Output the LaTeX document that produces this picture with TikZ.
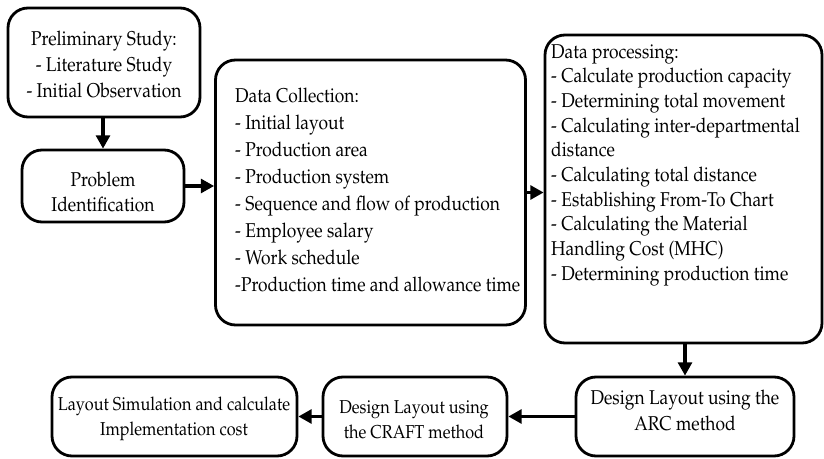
\documentclass[tikz,border=0pt]{standalone}
\usepackage[T1]{fontenc}
\usepackage{palatino}
\usetikzlibrary{arrows.meta}
\tikzset{
  box/.style={draw=black, line width=2.1pt, rounded corners=15pt, fill=white, inner sep=0pt},
  txt/.style={inner sep=0pt, xscale=0.87, font=\fontsize{15}{19.5}\selectfont},
  arr/.style={line width=2.3pt, -{Triangle[length=10pt,width=10.5pt]}},
}
\begin{document}
\begin{tikzpicture}[x=0.75pt,y=-0.75pt]
\useasboundingbox (0,0) rectangle (824,459);
% boxes
\node[box, minimum width=192*0.75pt, minimum height=109*0.75pt] (b1) at (104,62.5) {};
\node[txt, align=center] (t1) at (104,64) {Preliminary Study:\\- Literature Study\\- Initial Observation};
\node[box, minimum width=162*0.75pt, minimum height=72*0.75pt] (b2) at (103,186) {};
\node[txt, align=center, font=\fontsize{15}{19}\selectfont] (t2) at (103,192) {Problem\\Identification};
\node[box, minimum width=310*0.75pt, minimum height=265*0.75pt] (b3) at (370.5,192.5) {};
\node[txt, align=left, anchor=north west, font=\fontsize{15}{20.2}\selectfont] (t3) at (235,88) {Data Collection:\\- Initial layout\\- Production area\\- Production system\\- Sequence and flow of production\\- Employee salary\\- Work schedule\\-Production time and allowance time};
\node[box, minimum width=277*0.75pt, minimum height=308*0.75pt] (b4) at (683.5,189) {};
\node[txt, align=left, anchor=north west, font=\fontsize{15}{18.5}\selectfont] (t4) at (551,44) {Data processing:\\- Calculate production capacity\\- Determining total movement\\- Calculating inter-departmental\\distance\\- Calculating total distance\\- Establishing From-To Chart\\- Calculating the Material\\Handling Cost (MHC)\\- Determining production time};
\node[box, minimum width=218*0.75pt, minimum height=79*0.75pt] (b5) at (685,416.5) {};
\node[txt, align=center, font=\fontsize{15}{19.5}\selectfont] (t5) at (685,410.5) {Design Layout using the\\ARC method};
\node[box, minimum width=184*0.75pt, minimum height=79*0.75pt] (b6) at (415,416.5) {};
\node[txt, align=center, font=\fontsize{14}{18.5}\selectfont] (t6) at (414,420) {Design Layout using\\the CRAFT method};
\node[box, minimum width=245*0.75pt, minimum height=79*0.75pt] (b7) at (174.5,416.5) {};
\node[txt, align=center, font=\fontsize{14}{18.5}\selectfont] (t7) at (174,419) {Layout Simulation and calculate\\Implementation cost};
% arrows
\draw[arr] (b1.south -| b2.north) -- (b2.north);
\draw[arr] (b2.east) -- (b2.east -| b3.west);
\draw[arr] (b3.east) -- (b3.east -| b4.west);
\draw[arr] (b5.north |- b4.south) -- (b5.north);
\draw[arr] (b5.west) -- (b5.west -| b6.east);
\draw[arr] (b6.west) -- (b6.west -| b7.east);
\end{tikzpicture}
\end{document}
